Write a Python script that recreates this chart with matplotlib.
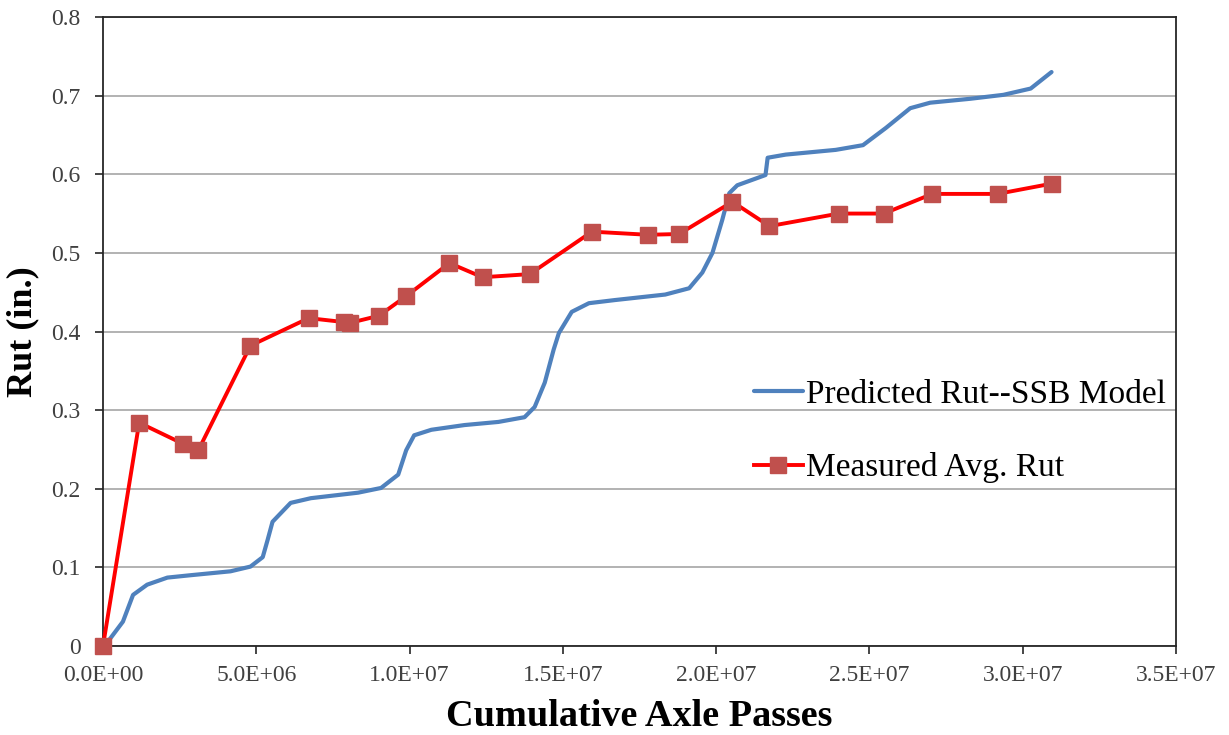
import numpy as np
import matplotlib
matplotlib.use('Agg')
import matplotlib.pyplot as plt
from matplotlib.ticker import FuncFormatter

# 予測わだち掘れ（SSBモデル）: 軸通過数(百万回) と わだち深さ(in.)
pred_passes_m = [0.0, 0.13, 0.65, 0.98, 1.44, 2.10, 2.85, 4.16, 4.81, 5.21, 5.37, 5.53,
                 6.12, 6.78, 8.32, 9.07, 9.63, 9.89, 10.15, 10.71, 11.79, 12.90, 13.75,
                 14.08, 14.41, 14.70, 14.87, 15.29, 15.85, 16.70, 18.34, 19.12, 19.55,
                 19.88, 20.20, 20.43, 20.69, 21.61, 21.68, 22.27, 23.90, 24.79, 25.54,
                 26.33, 26.98, 28.29, 29.37, 30.26, 30.94]
pred_rut = [0.0, 0.004, 0.031, 0.065, 0.078, 0.087, 0.090, 0.095, 0.101, 0.113, 0.135, 0.158,
            0.182, 0.188, 0.195, 0.201, 0.218, 0.249, 0.268, 0.275, 0.281, 0.285, 0.291,
            0.304, 0.335, 0.377, 0.398, 0.425, 0.436, 0.440, 0.447, 0.455, 0.475,
            0.500, 0.542, 0.576, 0.586, 0.599, 0.621, 0.625, 0.631, 0.637, 0.659,
            0.684, 0.691, 0.696, 0.701, 0.709, 0.730]

# 実測平均わだち掘れ
meas_passes_m = [0.0, 1.18, 2.62, 3.11, 4.81, 6.71, 7.86, 8.06, 9.00, 9.89, 11.30, 12.38,
                 13.92, 15.95, 17.78, 18.79, 20.53, 21.74, 24.00, 25.47, 27.05, 29.18, 30.94]
meas_rut = [0.0, 0.284, 0.257, 0.249, 0.382, 0.417, 0.412, 0.411, 0.420, 0.445, 0.487, 0.469,
            0.473, 0.527, 0.523, 0.524, 0.565, 0.534, 0.550, 0.550, 0.575, 0.575, 0.588]

labels = ['Predicted Rut--SSB Model', 'Measured Avg. Rut']

plt.rcParams['font.family'] = ['Liberation Serif', 'DejaVu Serif']

fig = plt.figure(figsize=(12.29, 7.35), dpi=100)
ax = fig.add_axes([103 / 1229, 89 / 735, (1176 - 103) / 1229, (646 - 17) / 735])

x_pred = np.array(pred_passes_m) * 1e6
x_meas = np.array(meas_passes_m) * 1e6

ax.plot(x_pred, pred_rut, color='#4F81BD', lw=3.0, label=labels[0], zorder=3,
        solid_capstyle='round', solid_joinstyle='round')
ax.plot(x_meas, meas_rut, color='#FF0000', lw=2.8, marker='s', markersize=11.5,
        markerfacecolor='#C0504D', markeredgecolor='#C0504D', label=labels[1], zorder=4,
        clip_on=False)

ax.set_xlim(0, 3.5e7)
ax.set_ylim(0, 0.8)
ax.set_xticks(np.arange(0, 3.5e7 + 1, 5e6))
ax.set_yticks(np.arange(0, 0.81, 0.1))
ax.xaxis.set_major_formatter(FuncFormatter(lambda v, p: '%.1E' % v))
ax.yaxis.set_major_formatter(FuncFormatter(lambda v, p: '0' if v == 0 else '%.1f' % v))

ax.grid(axis='y', color='#A6A6A6', lw=1.2)
ax.set_axisbelow(True)
for s in ax.spines.values():
    s.set_color('#262626')
    s.set_linewidth(1.3)
ax.tick_params(axis='both', direction='out', length=6, width=1.2, color='#262626',
               labelsize=17, labelcolor='#404040')
ax.tick_params(axis='x', pad=8)
ax.tick_params(axis='y', pad=10)

ax.set_xlabel('Cumulative Axle Passes', fontsize=27.5, fontweight='bold', labelpad=9)
ax.set_ylabel('Rut (in.)', fontsize=26, fontweight='bold', labelpad=9)

ax.legend(loc='upper left', bbox_to_anchor=(0.607, 0.424), frameon=False, fontsize=24,
          handlelength=1.45, handletextpad=0.1, labelspacing=1.28, borderpad=0,
          borderaxespad=0, markerscale=1.0)

fig.savefig('out.png', dpi=100)
